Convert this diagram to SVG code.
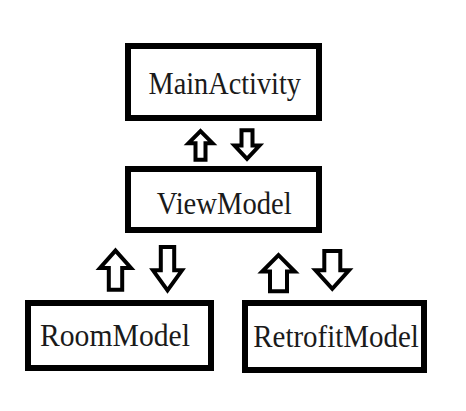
<svg xmlns="http://www.w3.org/2000/svg" width="466" height="411" viewBox="0 0 466 411">
  <style>
    .box { fill: #ffffff; stroke: #000000; stroke-width: 6; }
    .lbl { font-family: "Liberation Serif", "Times New Roman", serif; font-size: 32px; fill: #1a1a1a; }
    .arr { fill: #ffffff; stroke: #000000; stroke-width: 4; stroke-linejoin: miter; stroke-miterlimit: 10; }
  </style>
  <rect x="0" y="0" width="466" height="411" fill="#ffffff"/>
  <g id="MainActivity">
    <rect class="box" x="128" y="46" width="191" height="72"/>
    <text class="lbl" x="148.5" y="93.5" textLength="152.5" lengthAdjust="spacingAndGlyphs">MainActivity</text>
  </g>
  <g id="ViewModel">
    <rect class="box" x="128" y="169" width="191" height="61"/>
    <text class="lbl" x="156.7" y="213.5" textLength="135" lengthAdjust="spacingAndGlyphs">ViewModel</text>
  </g>
  <g id="RoomModel">
    <rect class="box" x="28" y="303" width="183" height="65"/>
    <text class="lbl" x="40" y="346" textLength="150" lengthAdjust="spacingAndGlyphs">RoomModel</text>
  </g>
  <g id="RetrofitModel">
    <rect class="box" x="245" y="303" width="179" height="67"/>
    <text class="lbl" x="253.3" y="347" textLength="165.5" lengthAdjust="spacingAndGlyphs">RetrofitModel</text>
  </g>
  <g id="connectors">
    <path class="arr" d="M200.5,131.2 L212.5,143.2 L205.5,143.2 L205.5,159.7 L195.5,159.7 L195.5,143.2 L188.5,143.2 Z"/>
    <path class="arr" d="M241.5,130.3 L252.5,130.3 L252.5,145.5 L259.5,145.5 L247,158.8 L234.5,145.5 L241.5,145.5 Z"/>
    <path class="arr" d="M115.5,250.6 L131,268 L122.2,268 L122.2,289.7 L108.8,289.7 L108.8,268 L100,268 Z"/>
    <path class="arr" d="M160.8,247 L174.2,247 L174.2,270.3 L182,270.3 L167.5,290.4 L153,270.3 L160.8,270.3 Z"/>
    <path class="arr" d="M278.5,255.2 L294.8,271.5 L287,271.5 L287,291.3 L270,291.3 L270,271.5 L262.2,271.5 Z"/>
    <path class="arr" d="M324.3,251 L340.3,251 L340.3,270.3 L349,270.3 L332.3,288.8 L315.5,270.3 L324.3,270.3 Z"/>
  </g>
</svg>
